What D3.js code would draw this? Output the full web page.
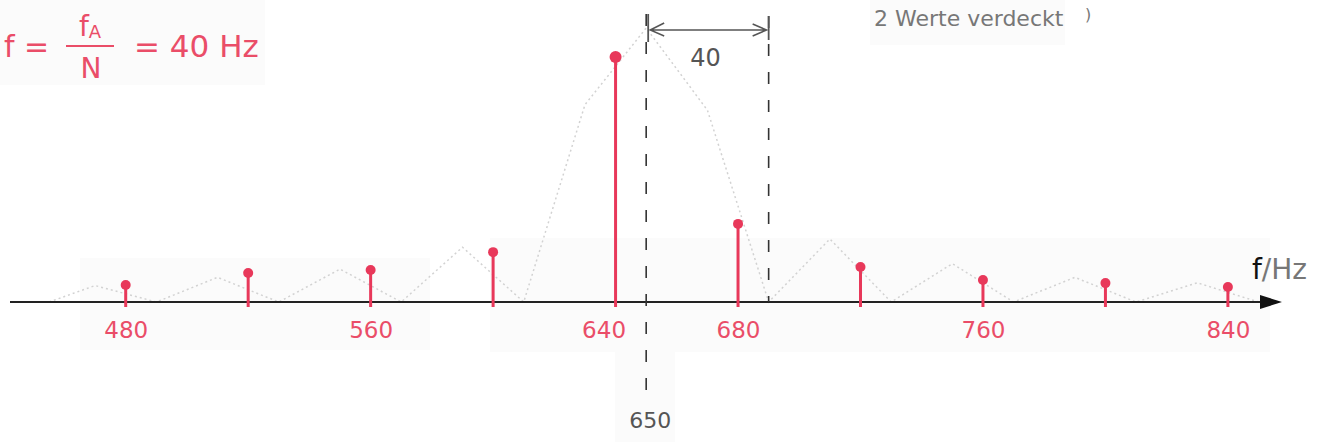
<!DOCTYPE html>
<html>
<head>
<meta charset="utf-8">
<script src="https://cdn.jsdelivr.net/npm/d3@7"></script>
<style>
  html, body { margin: 0; padding: 0; background: #fff; }
  svg { display: block; }
</style>
</head>
<body>
<script>
// DFT bins (Hz) and their magnitudes
const binFreqs = [480, 520, 560, 600, 640, 680, 720, 760, 800, 840];
const binMags  = [0.062, 0.106, 0.117, 0.182, 0.894, 0.285, 0.128, 0.080, 0.069, 0.055];

// continuous spectrum envelope (lobe peaks and zeros)
const envFreqs = [455, 470, 490, 510, 530, 550, 570, 590, 610, 630, 650, 670, 690, 710, 730, 750, 770, 790, 810, 830, 850];
const envMags  = [0.00, 0.06, 0.00, 0.09, 0.00, 0.12, 0.00, 0.20, 0.00, 0.72, 1.00, 0.70, 0.00, 0.23, 0.00, 0.14, 0.00, 0.09, 0.00, 0.07, 0.00];

// labelled frequencies on the axis
const tickFreqs = [480, 560, 640, 680, 760, 840];

// true signal frequency and the next zero of the main lobe
const signalFreq = 650;
const lobeEdgeFreq = 690;
const binSpacing = 40;

const W = 1325, H = 442;
const red = "#e8385a";
const redText = "#ea4d68";
const pencil = "#555";

const svg = d3.select("body").append("svg").attr("width", W).attr("height", H);

const x = d3.scaleLinear().domain([480, 840]).range([125.7, 1227.9]);
const y = d3.scaleLinear().domain([0, 1]).range([302, 28]);
const y0 = y(0);

// faint paper patches
const patches = [[0, 0, 265, 85], [80, 258, 350, 92], [490, 238, 780, 114], [615, 352, 60, 90], [870, 0, 195, 45]];
svg.selectAll("rect.patch").data(patches).join("rect")
  .attr("x", d => d[0]).attr("y", d => d[1]).attr("width", d => d[2]).attr("height", d => d[3])
  .attr("fill", "#fbfbfb");

// envelope
svg.append("path")
  .datum(envFreqs.map((f, i) => [f, envMags[i]]))
  .attr("d", d3.line().x(d => x(d[0])).y(d => y(d[1])))
  .attr("fill", "none").attr("stroke", "#d2d2d2").attr("stroke-width", 1.5)
  .attr("stroke-dasharray", "2,3");

// frequency axis
svg.append("line").attr("x1", 10).attr("x2", 1275).attr("y1", y0).attr("y2", y0)
  .attr("stroke", "#222").attr("stroke-width", 2);
svg.append("path").attr("d", `M1260,${y0 - 7} L1282,${y0} L1260,${y0 + 7} Z`).attr("fill", "#111");

const axis = d3.axisBottom(x).tickValues(tickFreqs).tickSize(0).tickPadding(20).tickFormat(d3.format("d"));
const gAxis = svg.append("g").attr("transform", `translate(0,${y0})`).call(axis);
gAxis.select(".domain").remove();
gAxis.selectAll("text")
  .attr("fill", redText).attr("font-size", 23).attr("font-family", "DejaVu Sans")
  .attr("dx", d => d === 640 ? -12 : 0);

svg.append("text").attr("x", 1252).attr("y", 279).attr("font-size", 28)
  .attr("font-family", "DejaVu Sans").attr("fill", "#111").text("f")
  .append("tspan").attr("fill", "#777").text("/Hz");

// dashed markers at the signal frequency and the first zero
const markers = [[signalFreq, 14, 398], [lobeEdgeFreq, 16, y0]];
svg.selectAll("line.marker").data(markers).join("line")
  .attr("x1", d => x(d[0])).attr("x2", d => x(d[0]))
  .attr("y1", d => d[1]).attr("y2", d => d[2])
  .attr("stroke", "#333").attr("stroke-width", 1.6).attr("stroke-dasharray", "12,16");

// bin spacing arrow
const ax1 = x(signalFreq) + 4, ax2 = x(lobeEdgeFreq) - 2, ay = 30;
svg.append("line").attr("x1", ax1 - 2).attr("x2", ax1 - 2).attr("y1", 14).attr("y2", 42)
  .attr("stroke", pencil).attr("stroke-width", 1.8);
svg.append("line").attr("x1", ax2 + 2).attr("x2", ax2 + 2).attr("y1", 16).attr("y2", 40)
  .attr("stroke", pencil).attr("stroke-width", 1.8);
svg.append("path")
  .attr("d", `M${ax1},${ay} L${ax2},${ay} M${ax1 + 14},${ay - 7} L${ax1},${ay} L${ax1 + 14},${ay + 6} M${ax2 - 14},${ay - 6} L${ax2},${ay} L${ax2 - 14},${ay + 6}`)
  .attr("fill", "none").attr("stroke", pencil).attr("stroke-width", 1.5);
svg.append("text").attr("x", (x(signalFreq) + x(lobeEdgeFreq)) / 2 - 2).attr("y", 66)
  .attr("text-anchor", "middle").attr("font-size", 24).attr("font-family", "DejaVu Sans")
  .attr("fill", pencil).text(binSpacing);

svg.append("text").attr("x", x(signalFreq) + 4).attr("y", 428)
  .attr("text-anchor", "middle").attr("font-size", 22).attr("font-family", "DejaVu Sans")
  .attr("fill", pencil).text(signalFreq);

// stems
const bins = binFreqs.map((f, i) => ({ f, m: binMags[i] }));
svg.selectAll("line.stem").data(bins).join("line")
  .attr("x1", d => x(d.f)).attr("x2", d => x(d.f))
  .attr("y1", y0 + 5).attr("y2", d => y(d.m))
  .attr("stroke", red).attr("stroke-width", 3);
svg.selectAll("circle.head").data(bins).join("circle")
  .attr("cx", d => x(d.f)).attr("cy", d => y(d.m))
  .attr("r", d => d.m > 0.5 ? 6 : 5).attr("fill", red);

// resolution formula
const fg = svg.append("g").attr("fill", redText).attr("font-family", "DejaVu Sans");
fg.append("text").attr("x", 4).attr("y", 57).attr("font-size", 30).text("f =");
fg.append("text").attr("x", 90).attr("y", 36).attr("font-size", 28).attr("text-anchor", "middle")
  .text("f").append("tspan").attr("font-size", 18).attr("dy", 2).text("A");
fg.append("line").attr("x1", 66).attr("x2", 114).attr("y1", 46).attr("y2", 46)
  .attr("stroke", redText).attr("stroke-width", 2);
fg.append("text").attr("x", 91).attr("y", 78).attr("font-size", 28).attr("text-anchor", "middle").text("N");
fg.append("text").attr("x", 134).attr("y", 57).attr("font-size", 31).text("= 40  Hz");

// note at the top
svg.append("text").attr("x", 874).attr("y", 26).attr("font-size", 22)
  .attr("font-family", "DejaVu Sans").attr("fill", "#777").text("2 Werte verdeckt");
svg.append("text").attr("x", 1085).attr("y", 20).attr("font-size", 16)
  .attr("font-family", "DejaVu Sans").attr("fill", "#777").text(")");
</script>
</body>
</html>
